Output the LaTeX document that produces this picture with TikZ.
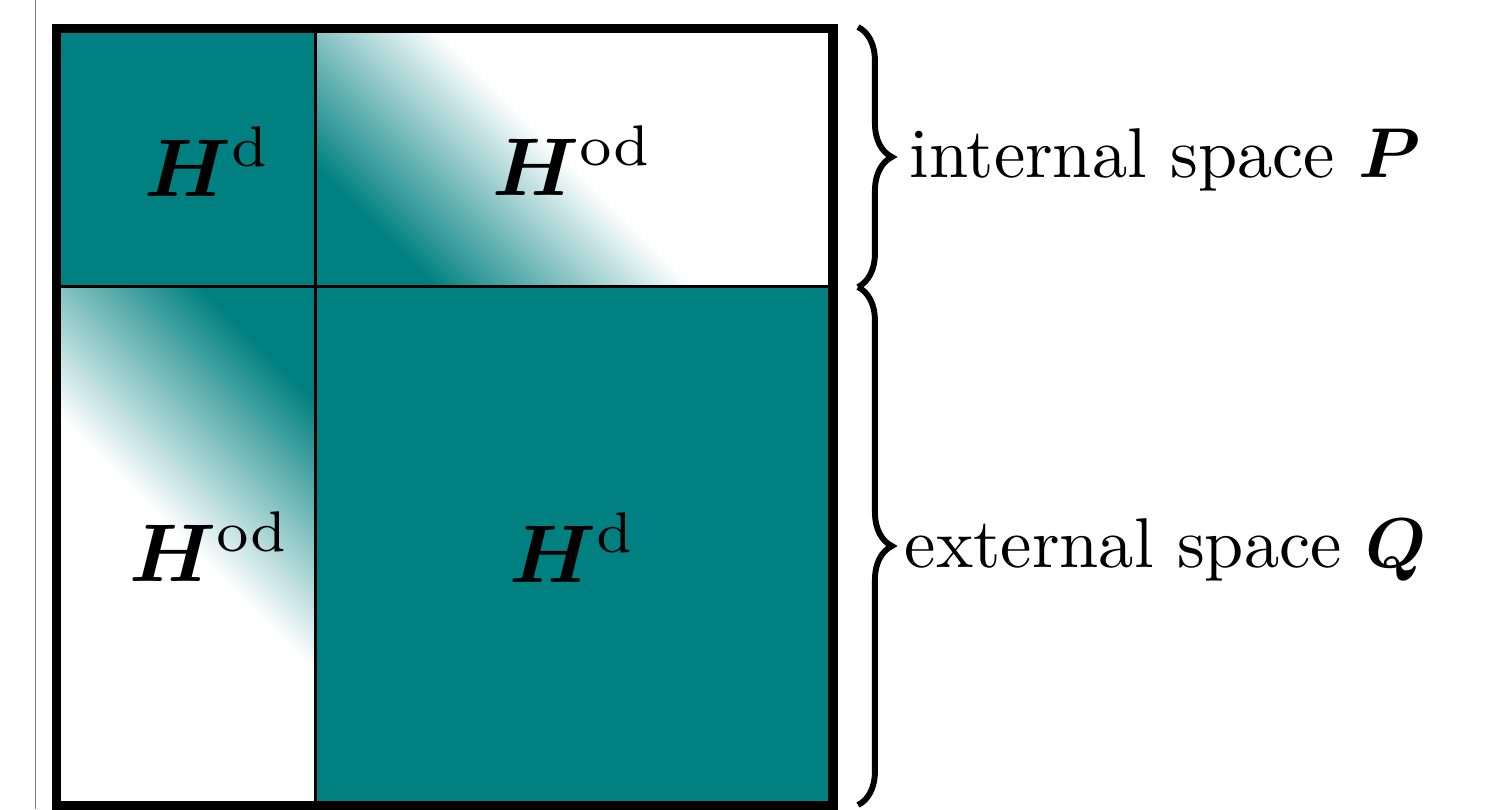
\documentclass[tikz,border=0pt]{standalone}
\usepackage{amsmath,amssymb,bm}
\usetikzlibrary{decorations.pathreplacing}

\newcommand{\blocklabel}[1]{\scalebox{2.08}{$\bm{H}^{\mathrm{#1}}$}}
\newcommand{\spacelabel}[1]{\scalebox{1.79}{#1}}

\begin{document}
\begin{tikzpicture}[x=0.254pt, y=-0.254pt, every node/.style={inner sep=0pt},
	frame/.style={line width=2.4pt}, divider/.style={line width=0.9pt},
	sidebrace/.style={decorate, decoration={brace, amplitude=8.6pt}, line width=1.5pt}]
	\useasboundingbox (0,0) rectangle (1493,809);
	\draw[gray, line width=0.4pt] (35.5,0) -- (35.5,809);
	\coordinate (tl) at (56.5,28.5);
	\coordinate (mid) at (315.5,286.7);
	\coordinate (br) at (833,805.5);
	% diagonal blocks
	\fill[teal] (tl) rectangle (mid);
	\fill[teal] (mid) rectangle (br);
	% off-diagonal blocks, teal fading to white
	\begin{scope}
		\clip (tl -| mid) rectangle (mid -| br);
		\fill[teal] (tl -| mid) rectangle (mid -| br);
		\foreach \i in {1,...,50} {
			\pgfmathsetmacro\c{145+5.2*\i}
			\pgfmathtruncatemacro\p{100-2*\i}
			\fill[teal!\p!white] (\c+20,20) -- (\c+300,300) -- (900,300) -- (900,20) -- cycle;
		}
	\end{scope}
	\begin{scope}
		\clip (tl |- mid) rectangle (mid |- br);
		\fill[teal] (tl |- mid) rectangle (mid |- br);
		\foreach \i in {1,...,50} {
			\pgfmathsetmacro\c{-83-5.44*\i}
			\pgfmathtruncatemacro\p{100-2*\i}
			\fill[teal!\p!white] (\c+280,280) -- (\c+810,810) -- (-500,810) -- (-500,280) -- cycle;
		}
	\end{scope}
	\draw[divider] (tl -| mid) -- (mid |- br);
	\draw[divider] (tl |- mid) -- (mid -| br);
	\draw[frame] (tl) rectangle (br);
	% block labels
	\node[anchor=base] (Hd1) at (208,196) {\blocklabel{d}};
	\node[anchor=base] (Hod1) at (573,195) {\blocklabel{od}};
	\node[anchor=base] (Hod2) at (210,581) {\blocklabel{od}};
	\node[anchor=base] (Hd2) at (573,582) {\blocklabel{d}};
	% braces
	\coordinate (P0) at (858,27);
	\coordinate (P1) at (858,287);
	\coordinate (Q1) at (858,805);
	\draw[sidebrace] (P0) -- (P1);
	\draw[sidebrace] (P1) -- (Q1);
	\node[anchor=base west] (labP) at (909,177) {\spacelabel{internal space $\bm{P}$}};
	\node[anchor=base west] (labQ) at (904,567) {\spacelabel{external space $\bm{Q}$}};
\end{tikzpicture}
\end{document}
